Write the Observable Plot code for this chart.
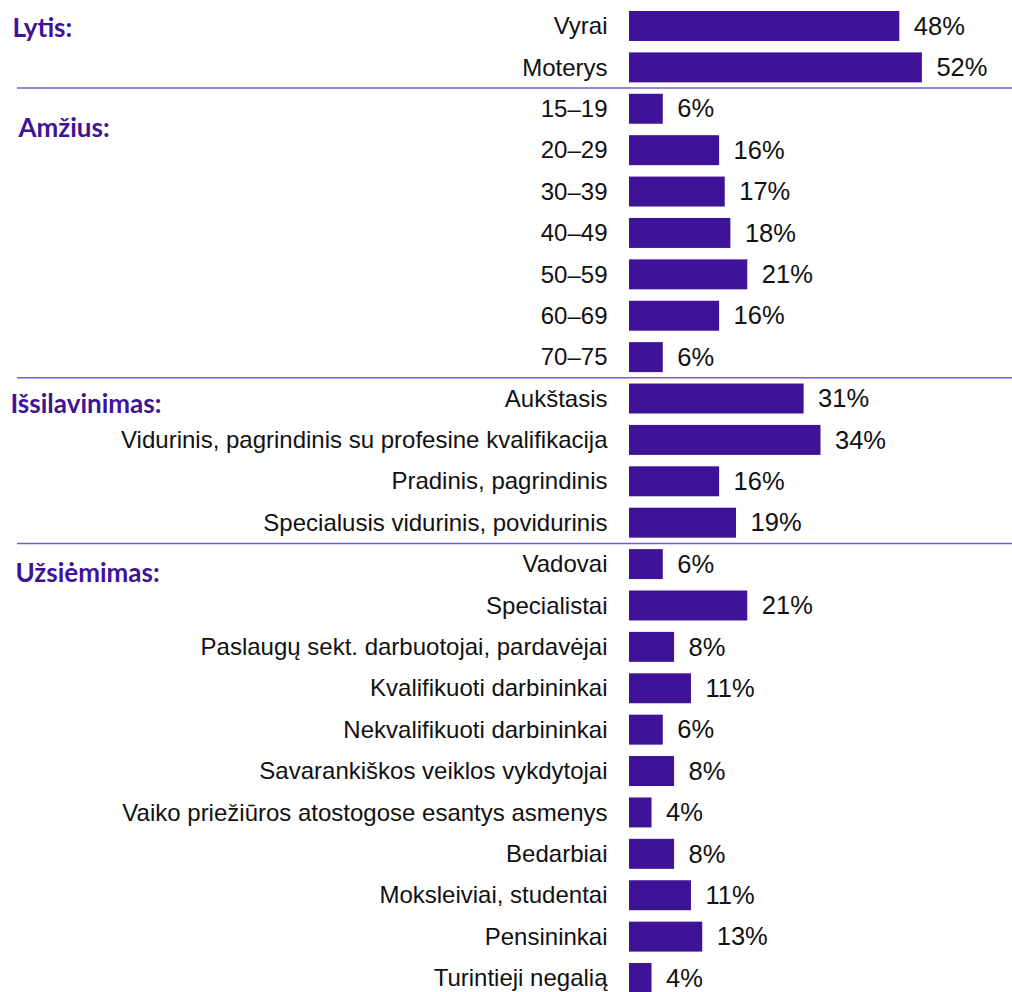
<!DOCTYPE html>
<html>
<head>
<meta charset="utf-8">
<script src="https://cdn.jsdelivr.net/npm/d3@7"></script>
<script src="https://cdn.jsdelivr.net/npm/@observablehq/plot@0.6"></script>
<style>
  html, body { margin: 0; padding: 0; background: #fff; }
  #chart svg { display: block; overflow: visible; }
</style>
</head>
<body>
<div id="chart"></div>
<script>
const categories = [
  "Vyrai", "Moterys",
  "15–19", "20–29", "30–39", "40–49", "50–59", "60–69", "70–75",
  "Aukštasis", "Vidurinis, pagrindinis su profesine kvalifikacija", "Pradinis, pagrindinis", "Specialusis vidurinis, povidurinis",
  "Vadovai", "Specialistai", "Paslaugų sekt. darbuotojai, pardavėjai", "Kvalifikuoti darbininkai",
  "Nekvalifikuoti darbininkai", "Savarankiškos veiklos vykdytojai", "Vaiko priežiūros atostogose esantys asmenys",
  "Bedarbiai", "Moksleiviai, studentai", "Pensininkai", "Turintieji negalią"
];
const shares = [48, 52, 6, 16, 17, 18, 21, 16, 6, 31, 34, 16, 19, 6, 21, 8, 11, 6, 8, 4, 8, 11, 13, 4];
const groupTitles = ["Lytis:", "Amžius:", "Išsilavinimas:", "Užsiėmimas:"];
const groupFirstRow = ["Vyrai", "15–19", "Aukštasis", "Vadovai"];

const rows = categories.map((c, i) => ({category: c, share: shares[i]}));
const purple = "#3f1398";

// per-title offsets (px) for layout only
const titleOffsets = [[12, 2], [18, 19], [10, 6], [15, 9]];

const titleMarks = groupTitles.map((t, i) =>
  Plot.text([{title: t, row: groupFirstRow[i]}], {
    y: "row", text: "title", frameAnchor: "left", textAnchor: "start",
    dx: titleOffsets[i][0], dy: titleOffsets[i][1],
    fill: purple, fontSize: 26, fontWeight: "bold", fontFamily: "Lato"
  })
);

const chart = Plot.plot({
  width: 1012,
  height: 992,
  marginLeft: 0, marginRight: 0, marginTop: 0, marginBottom: 0,
  style: {fontFamily: "Liberation Sans, Arial, sans-serif", background: "#fff"},
  x: {domain: [0, 68], range: [629, 1012], axis: null},
  y: {domain: categories, range: [11, 993], paddingInner: 0.276, paddingOuter: 0, round: false, axis: null},
  marks: [
    Plot.ruleY(groupFirstRow.slice(1), {y: d => d, dy: -21.2, insetLeft: 17, stroke: "#7a5cc6", strokeWidth: 1.5}),
    Plot.barX(rows, {x: "share", y: "category", fill: purple}),
    Plot.text(rows, {x: 0, y: "category", text: "category", textAnchor: "end", dx: -22, fontSize: 24, fill: "#111"}),
    Plot.text(rows, {x: "share", y: "category", text: d => d.share + "%", textAnchor: "start", dx: 14, fontSize: 25.5, fill: "#111"}),
    ...titleMarks
  ]
});
document.getElementById("chart").appendChild(chart);
</script>
</body>
</html>
